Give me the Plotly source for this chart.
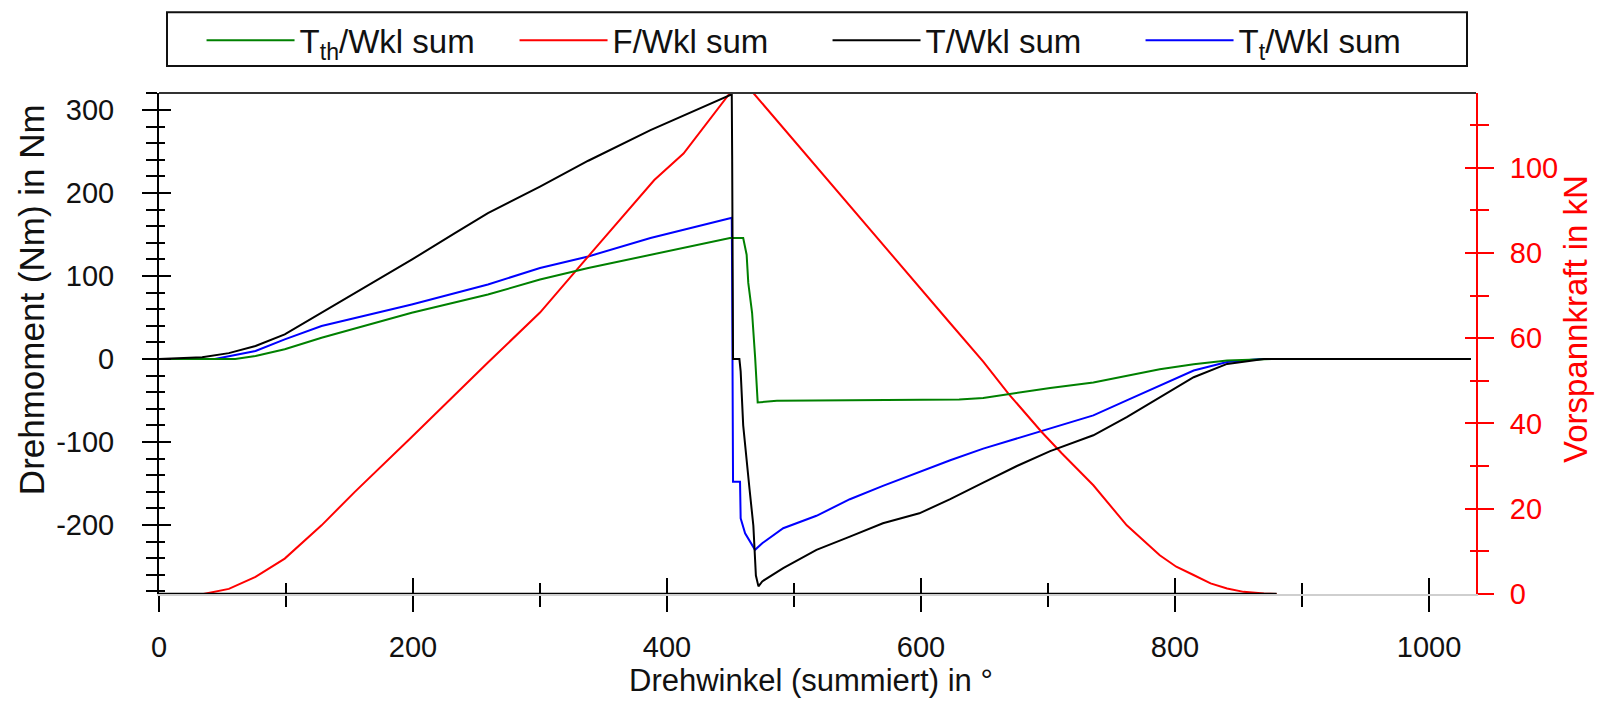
import plotly.graph_objects as go

# ---------------- data ----------------
# Tth/Wkl sum (green, left axis, Nm)
tth_x = [0, 60, 76, 99, 128, 199, 259, 300, 338, 387, 449.6, 460, 462.7, 464, 467, 469.4, 471.4,
         486.5, 630, 649, 675.5, 701.7, 735.7, 762, 788, 814.7, 841, 877.7, 1033]
tth_y = [0, 0, 3.6, 11.6, 25.6, 55.6, 77.6, 95.6, 109.6, 125.6, 145.6, 145.6, 125.6, 91.6, 55.6, 1.6, -52.4,
         -50.4, -49, -47, -41, -35, -28.4, -20.4, -12.4, -6.4, -2, 0, 0]

# F/Wkl sum (red, right axis, kN)
f_x = [0, 35, 55, 76, 99, 128, 154, 199, 259, 300, 338, 390, 413, 449.6, 468, 491.5, 517.7, 544, 570,
       598.7, 623, 649, 668.8, 695, 710.8, 735.7, 762, 788, 801, 815, 828, 841, 854, 870, 880]
f_y = [0, 0, 1.2, 4.0, 8.3, 16.1, 23.9, 36.8, 54.3, 66.0, 79.2, 97.1, 103.3, 117.5, 117.5, 109.3, 100, 91, 82,
       72, 63.5, 54.5, 47, 38, 33, 25.5, 16.1, 9.1, 6.4, 4.4, 2.5, 1.3, 0.5, 0.1, 0]

# T/Wkl sum (black, left axis, Nm)
t_x = [0, 34, 55, 76, 99, 128, 154, 199, 233, 259, 300, 338, 387, 449.6, 451, 451.3, 451.6, 452, 457, 458,
       460, 462.6, 465, 468, 470, 472, 475, 491.5, 517.7, 544, 570, 598.7, 623, 649, 675.5, 701.7,
       735.7, 762, 788, 814.7, 841, 857, 870, 1033]
t_y = [0, 2, 7, 15.6, 29.6, 55.6, 79.6, 119.6, 151.6, 175.6, 207.6, 238.8, 275.6, 318.8, 318.8, 245, 20, 0, 0, -15,
       -80, -125, -157, -201, -261, -274, -268, -252, -230, -214, -198, -186, -169, -149, -129, -111,
       -92, -70, -46, -22, -6, -3, 0, 0]

# Tt/Wkl sum (blue, left axis, Nm)
tt_x = [0, 44, 76, 99, 128, 199, 259, 300, 338, 387, 449.6, 451, 451.3, 451.6, 452, 457.5, 458, 461.5,
        469.3, 475, 491.5, 517.7, 544, 570, 598.7, 623, 649, 675.5, 701.7, 735.7, 762, 788, 814.7,
        841, 867, 1033]
tt_y = [0, 0, 9.6, 23.6, 39.6, 65.6, 89.6, 109.6, 123.5, 145.6, 169.6, 170, 92, -122, -148, -148, -192, -210,
        -230, -222, -204, -189, -169, -153, -136, -122, -108, -96, -84, -68, -50, -32, -14,
        -3.6, 0, 0]

x_ticks = [0, 200, 400, 600, 800, 1000]
yl_ticks = [-200, -100, 0, 100, 200, 300]
yr_ticks = [0, 20, 40, 60, 80, 100]

names = ["T<sub>th</sub>/Wkl sum", "F/Wkl sum", "T/Wkl sum", "T<sub>t</sub>/Wkl sum"]

FONT = "Liberation Sans, Arial, sans-serif"
TXT = "#111111"

fig = go.Figure()
# bottom black baseline along the force data extent (right axis zero)
fig.add_trace(go.Scatter(x=[f_x[0], f_x[-1]], y=[f_y[0], f_y[-1]], mode="lines",
                         line=dict(color="black", width=2.5), xaxis="x", yaxis="y4",
                         showlegend=False, hoverinfo="skip"))
fig.add_trace(go.Scatter(x=tth_x, y=tth_y, mode="lines", name=names[0],
                         line=dict(color="#008000", width=2), xaxis="x", yaxis="y3"))
fig.add_trace(go.Scatter(x=f_x, y=f_y, mode="lines", name=names[1],
                         line=dict(color="#ff0000", width=2), xaxis="x", yaxis="y2"))
fig.add_trace(go.Scatter(x=t_x, y=t_y, mode="lines", name=names[2],
                         line=dict(color="#000000", width=2), xaxis="x2", yaxis="y"))
fig.add_trace(go.Scatter(x=tt_x, y=tt_y, mode="lines", name=names[3],
                         line=dict(color="#0000ff", width=2), xaxis="x", yaxis="y"))

XR = [0, 1037]
YL = [-283.2, 320.4]
YR = [0, 117.5]

fig.update_layout(
    width=1610, height=704,
    margin=dict(l=159, r=134, t=91, b=110),
    paper_bgcolor="white", plot_bgcolor="white",
    font=dict(family=FONT, size=29, color=TXT),
    showlegend=True,
    legend=dict(orientation="h", x=0.0323, y=1.161, xanchor="left", yanchor="top",
                borderwidth=0, bgcolor="rgba(0,0,0,0)",
                font=dict(family=FONT, size=33, color=TXT),
                itemwidth=88,
                entrywidth=210, entrywidthmode="pixels", traceorder="normal"),
    xaxis=dict(range=XR, tickmode="array", tickvals=x_ticks, ticktext=[str(v) for v in x_ticks],
               ticks="outside", ticklen=16,
               tickwidth=2, tickcolor="black", showline=True, linecolor="#cfcfcf", linewidth=2,
               showgrid=False, zeroline=False, ticklabelstandoff=10,
               tickfont=dict(size=29, color=TXT),
               minor=dict(ticks="outside", ticklen=11, tickwidth=2, tickcolor="black",
                          dtick=100, tick0=0, showgrid=False),
               anchor="y"),
    xaxis2=dict(matches="x", overlaying="x", anchor="y", side="bottom", ticks="inside",
                tickmode="array", tickvals=x_ticks, ticklen=16, tickwidth=2, tickcolor="black",
                showticklabels=False, showline=False, showgrid=False, zeroline=False,
                minor=dict(ticks="inside", ticklen=11, tickwidth=2, tickcolor="black",
                           dtick=100, tick0=0, showgrid=False)),
    yaxis=dict(range=YL, tickmode="array", tickvals=yl_ticks, ticktext=[str(v) for v in yl_ticks],
               ticks="outside", ticklen=15,
               tickwidth=2, tickcolor="black", showline=True, linecolor="black", linewidth=2,
               showgrid=False, zeroline=False, ticklabelstandoff=22,
               tickfont=dict(size=29, color=TXT),
               minor=dict(ticks="outside", ticklen=11, tickwidth=2, tickcolor="black",
                          dtick=20, tick0=0, showgrid=False),
               anchor="x"),
    yaxis3=dict(matches="y", overlaying="y", side="left", anchor="x", ticks="inside",
                tickmode="array", tickvals=yl_ticks, ticklen=12, tickwidth=2, tickcolor="black",
                showticklabels=False, showline=False, showgrid=False, zeroline=False,
                minor=dict(ticks="inside", ticklen=6, tickwidth=2, tickcolor="black",
                           dtick=20, tick0=0, showgrid=False)),
    yaxis2=dict(range=YR, overlaying="y", side="right", anchor="x", tickmode="array",
                tickvals=yr_ticks, ticktext=[str(v) for v in yr_ticks],
                ticks="outside", ticklen=16, tickwidth=2, tickcolor="#ff0000",
                showline=True, linecolor="#ff0000", linewidth=2, showgrid=False, zeroline=False,
                ticklabelstandoff=10, tickfont=dict(size=29, color="#ff0000"),
                minor=dict(ticks="outside", ticklen=11, tickwidth=2, tickcolor="#ff0000",
                           dtick=10, tick0=0, showgrid=False)),
    yaxis4=dict(matches="y2", overlaying="y", side="right", anchor="x", ticks="inside",
                tickmode="array", tickvals=yr_ticks, ticklen=11, tickwidth=2, tickcolor="#ff0000",
                showticklabels=False, showline=False, showgrid=False, zeroline=False,
                minor=dict(ticks="inside", ticklen=6, tickwidth=2, tickcolor="#ff0000",
                           dtick=10, tick0=0, showgrid=False)),
)

# top frame line
fig.add_shape(type="line", xref="paper", yref="paper", x0=0, x1=1, y0=1, y1=1,
              line=dict(color="#333333", width=2))
# legend frame
fig.add_shape(type="rect", xref="paper", yref="paper",
              x0=(167 - 159) / 1317, x1=(1467 - 159) / 1317,
              y0=1 + (91 - 64) / 503, y1=1 + (91 - 10) / 503,
              line=dict(color="#111111", width=2), fillcolor="white", layer="below")

# axis titles
fig.add_annotation(text="Drehwinkel (summiert) in °", xref="paper", yref="paper",
                   x=0.495, y=-0.173, showarrow=False, xanchor="center", yanchor="middle",
                   font=dict(family=FONT, size=31, color=TXT))
fig.add_annotation(text="Drehmoment (Nm) in Nm", xref="paper", yref="paper",
                   x=-0.0972, y=0.5885, showarrow=False, textangle=-90,
                   xanchor="center", yanchor="middle",
                   font=dict(family=FONT, size=35, color=TXT))
fig.add_annotation(text="Vorspannkraft in kN", xref="paper", yref="paper",
                   x=1.076, y=0.549, showarrow=False, textangle=-90,
                   xanchor="center", yanchor="middle",
                   font=dict(family=FONT, size=33, color="#ff0000"))

fig.write_html("out.html")
